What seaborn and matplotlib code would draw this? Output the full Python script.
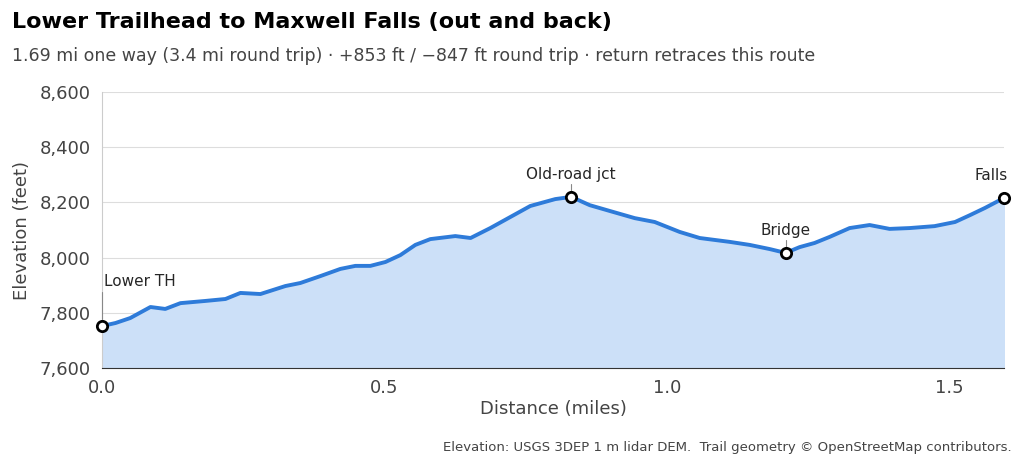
import matplotlib.pyplot as plt
import seaborn as sns
import pandas as pd

# Profile (miles, feet)
distance_mi = [0.000, 0.0239, 0.050, 0.0858, 0.112, 0.1389, 0.1832, 0.2186, 0.2451, 0.2805,
               0.3248, 0.3513, 0.3867, 0.4221, 0.4487, 0.4752, 0.5018, 0.5283, 0.5549, 0.5814,
               0.6257, 0.6527, 0.6876, 0.7230, 0.7584, 0.8027, 0.8310, 0.8637, 0.8991, 0.9434,
               0.9788, 1.0230, 1.0584, 1.1115, 1.1469, 1.1823, 1.2106, 1.2354, 1.2619, 1.2885,
               1.3239, 1.3593, 1.3947, 1.4301, 1.4743, 1.5106, 1.5372, 1.5637, 1.5973]
elevation_ft = [7752, 7763, 7781, 7821, 7814, 7835, 7843, 7850, 7872, 7868,
                7897, 7908, 7933, 7959, 7970, 7970, 7984, 8009, 8046, 8067,
                8078, 8071, 8107, 8147, 8187, 8212, 8220, 8190, 8169, 8143,
                8129, 8093, 8071, 8057, 8046, 8031, 8017, 8038, 8053, 8075,
                8107, 8118, 8104, 8107, 8114, 8129, 8154, 8180, 8216]

waypoint_names = ["Lower TH", "Old-road jct", "Bridge", "Falls"]
waypoint_idx = [0, 26, 36, 48]

df = pd.DataFrame({"dist": distance_mi, "elev": elevation_ft})

sns.set_style("white")
plt.rcParams['font.family'] = ['DejaVu Sans']

fig = plt.figure(figsize=(10.24, 4.61), dpi=100)
ax = fig.add_axes([102 / 1024, 1 - 368 / 461, 902 / 1024, 276 / 461])

ax.fill_between(df["dist"], 7600, df["elev"], color="#cce0f8", zorder=1)
sns.lineplot(data=df, x="dist", y="elev", ax=ax, color="#2e7bd9", linewidth=2.8, zorder=3)
ax.lines[-1].set_solid_joinstyle("round")

wx = [distance_mi[i] for i in waypoint_idx]
wy = [elevation_ft[i] for i in waypoint_idx]
ax.scatter(wx, wy, s=55, facecolor="white", edgecolor="black", linewidth=2, zorder=5, clip_on=False)
for name, x, y in zip(waypoint_names, wx, wy):
    if name == "Lower TH":
        ax.plot([x, x], [y + 25, y + 125], color="#888888", lw=0.8, zorder=6, clip_on=False)
        ax.text(x + 0.003, y + 135, name, ha="left", va="bottom", fontsize=11)
    elif name == "Falls":
        ax.text(x - 0.022, y + 55, name, ha="center", va="bottom", fontsize=11)
    else:
        ax.plot([x, x], [y + 18, y + 45], color="#888888", lw=0.8, zorder=2)
        ax.text(x, y + 55, name, ha="center", va="bottom", fontsize=11)

ax.set_xlim(0, distance_mi[-1])
ax.set_ylim(7600, 8600)
ax.set_xticks([0, 0.5, 1.0, 1.5])
ax.set_xticklabels(["0.0", "0.5", "1.0", "1.5"])
ax.set_yticks(range(7600, 8601, 200))
ax.set_yticklabels([f"{v:,}" for v in range(7600, 8601, 200)])
ax.tick_params(labelsize=13, colors="#444444", length=0)
ax.tick_params(axis="x", pad=8)
ax.tick_params(axis="y", pad=8)
ax.grid(axis="y", color="#dddddd", linewidth=0.8)
ax.set_axisbelow(True)
for s in ["top", "right"]:
    ax.spines[s].set_visible(False)
ax.spines["left"].set_color("#cccccc")
ax.spines["bottom"].set_color("#333333")
ax.set_xlabel("Distance (miles)", fontsize=13, color="#444444", labelpad=2)
ax.set_ylabel("Elevation (feet)", fontsize=13, color="#444444", labelpad=6)

fig.text(12 / 1024, 1 - 22 / 461, "Lower Trailhead to Maxwell Falls (out and back)",
         fontsize=16, fontweight="bold", va="center", color="black")
fig.text(12 / 1024, 1 - 56 / 461,
         "1.69 mi one way (3.4 mi round trip) · +853 ft / \u2212847 ft round trip · return retraces this route",
         fontsize=12.5, color="#444444", va="center")
fig.text(1012 / 1024, 1 - 447 / 461,
         "Elevation: USGS 3DEP 1 m lidar DEM.  Trail geometry © OpenStreetMap contributors.",
         fontsize=9.5, color="#444444", ha="right", va="center")

fig.savefig("out.png", dpi=100)
